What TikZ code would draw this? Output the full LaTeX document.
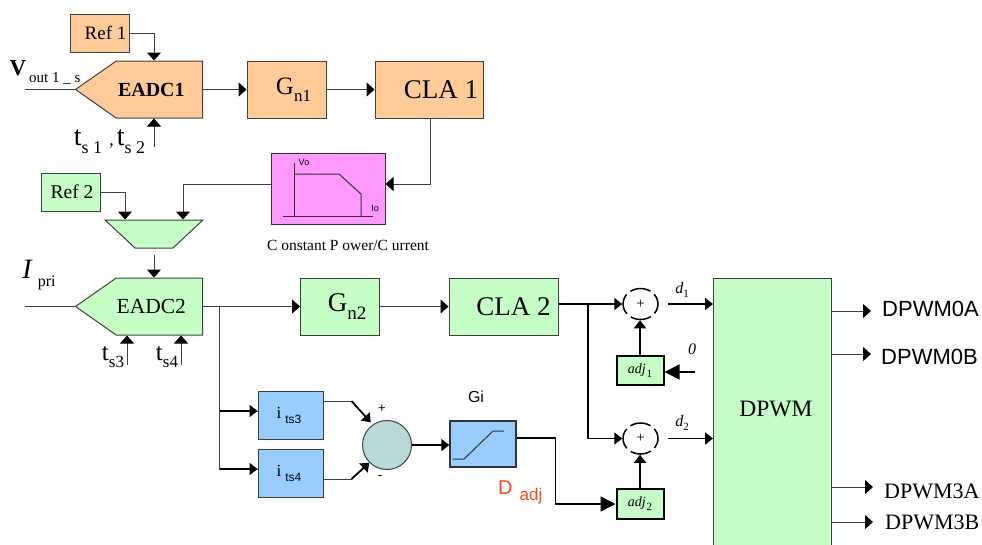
\documentclass[tikz,border=0pt]{standalone}
\usepackage{fontspec}
\setmainfont{Liberation Serif}
\setsansfont{Liberation Sans}
\usetikzlibrary{shapes.geometric, shapes.symbols, positioning, arrows.meta}
\definecolor{BlockOrange}{RGB}{255,204,153}
\definecolor{BlockGreen}{RGB}{198,255,198}
\definecolor{BlockPink}{RGB}{255,153,255}
\definecolor{BlockBlue}{RGB}{153,204,255}
\definecolor{SumTeal}{RGB}{184,216,220}
\definecolor{EdgeGray}{RGB}{64,64,64}
\definecolor{AdjRed}{RGB}{255,70,30}
\newcommand{\fs}[1]{\fontsize{#1}{#1}\selectfont}
\newcommand{\lowtxt}[2]{\raisebox{-0.3em}{\fs{#1}#2}}
\tikzset{
  block/.style={draw=EdgeGray, line width=1pt, inner sep=0pt, align=center},
  adcblock/.style={signal, signal to=west, signal from=nowhere, signal pointer angle=70,
    draw=EdgeGray, line width=1pt, inner sep=0pt, minimum width=127pt, minimum height=57pt, anchor=east},
  wire/.style={draw=black!75, line width=1pt},
  arrowwire/.style={wire, -{Triangle[length=8pt,width=14pt,color=black]}},
  boldwire/.style={draw=black, line width=1.8pt, -{Triangle[length=8pt,width=12pt]}},
  bigwire/.style={draw=black, line width=1.4pt, -{Triangle[length=15pt,width=15pt]}},
  sumnode/.style={ellipse, draw=black, line width=1.5pt, dash pattern=on 21pt off 5pt, dash phase=10.5pt,
    minimum width=35pt, minimum height=31pt, inner sep=0pt, font=\fs{15}},
  adjblock/.style={draw=black, line width=2pt, fill=BlockGreen, minimum width=47pt, inner sep=0pt,
    font=\fs{14}\itshape},
  lbl/.style={inner sep=0pt},
}
\begin{document}
\begin{tikzpicture}[x=1pt, y=-1pt]
  \clip (0,0) rectangle (982,544);
  % top loop
  \node[block, fill=BlockOrange, minimum width=59pt, minimum height=38pt, font=\fs{19}] (Ref1) at (99.5,33) {\hspace{12pt}Ref 1};
  \node[adcblock, fill=BlockOrange, font=\bfseries\fs{20}] (EADC1) at (203,89.5) {EADC1\hspace{16pt}\null};
  \node[block, fill=BlockOrange, minimum width=79pt, minimum height=57pt, font=\fs{25}] (Gn1) at (286.5,89.5) {\hspace{14pt}G\lowtxt{17}{n1}};
  \node[block, fill=BlockOrange, minimum width=108pt, minimum height=57pt, font=\fs{27}] (CLA1) at (429,89.5) {\hspace{24pt}CLA 1};
  \coordinate (Vin1) at (25,89.5);
  \coordinate (ts12) at (154,147);
  \node[lbl] (Vout1) at (45,72) {\fs{23}\bfseries V\hspace{3pt}\normalfont\lowtxt{15}{out 1 \_ s}};
  \node[lbl] (ts12Label) at (109.5,142) {\fs{28}t\lowtxt{18}{s 1} \fs{18},\,\fs{28}t\lowtxt{18}{s 2}};
  % limiter
  \node[block, fill=BlockPink, draw=black!80, minimum width=114pt, minimum height=71pt] (Limit) at (328,188.5) {};
  \draw[black!80, line width=1pt] (294,163) -- (294,216);
  \draw[black!80, line width=1pt] (283,216) -- (373,216);
  \draw[black!80, line width=1pt] (295,174) -- (339,174) -- (361,194) -- (361,216);
  \node[lbl, font=\sffamily\fs{9}] (VoLabel) at (304,162) {Vo};
  \node[lbl, font=\sffamily\fs{9}] (IoLabel) at (375,208) {Io};
  \node[lbl, font=\fs{15.5}] (LimitLabel) at (348,245) {C onstant P ower/C urrent};
  % lower loop
  \node[block, fill=BlockGreen, minimum width=59pt, minimum height=38pt, font=\fs{19.5}] (Ref2) at (70.5,192) {\hspace{3pt}Ref 2};
  \node[trapezium, shape border rotate=180, trapezium stretches=true, trapezium angle=49,
        draw=EdgeGray, line width=1pt, fill=BlockGreen, inner sep=0pt,
        minimum width=98pt, minimum height=28pt] (Mux) at (154,234) {\phantom{x}};
  \node[adcblock, fill=BlockGreen, font=\fs{21.5}] (EADC2) at (203,306.5) {EADC2\hspace{16pt}\null};
  \node[block, fill=BlockGreen, minimum width=79pt, minimum height=57pt, font=\fs{27}] (Gn2) at (340,306.5) {\hspace{14pt}G\lowtxt{19}{n2}};
  \node[block, fill=BlockGreen, minimum width=109pt, minimum height=57pt, font=\fs{27}] (CLA2) at (503.5,306.5) {\hspace{20pt}CLA 2};
  \coordinate (Vin2) at (25,306.5);
  \coordinate (ts3) at (127,365);
  \coordinate (ts4) at (181,365);
  \coordinate (BranchA) at (219.5,306.5);
  \coordinate (BranchB) at (588,304);
  \node[lbl] (IpriLabel) at (39,275) {\fs{28}\itshape I\hspace{6pt}\normalfont\lowtxt{16}{pri}};
  \node[lbl] (ts3Label) at (113,357) {\fs{25}t\lowtxt{17}{s3}};
  \node[lbl] (ts4Label) at (167,357) {\fs{25}t\lowtxt{17}{s4}};
  % current balance
  \node[block, fill=BlockBlue, minimum width=65pt, minimum height=48pt, font=\fs{17}] (Its3) at (290.5,415.5) {i\hspace{4pt}\lowtxt{12}{\sffamily ts3}\hspace{3pt}\null};
  \node[block, fill=BlockBlue, minimum width=65pt, minimum height=48pt, font=\fs{17}] (Its4) at (290.5,473.5) {i\hspace{4pt}\lowtxt{12}{\sffamily ts4}\hspace{3pt}\null};
  \node[circle, draw=EdgeGray, line width=1pt, fill=SumTeal, minimum size=49pt, inner sep=0pt] (Diff) at (387,445) {};
  \node[block, fill=BlockBlue, draw=black!80, line width=1.4pt, minimum width=66pt, minimum height=46pt] (Gi) at (483,444) {};
  \draw[black!80, line width=1pt] (452.5,459) -- (464,459) -- (493,431) -- (504,431);
  \node[lbl, font=\sffamily\fs{16}] (GiLabel) at (476,397) {Gi};
  \node[lbl, font=\sffamily\fs{13}] (PlusLabel) at (382,409) {+};
  \node[lbl, font=\sffamily\fs{13}] (MinusLabel) at (380,478) {-};
  \node[lbl, font=\sffamily, text=AdjRed, anchor=west] (DadjLabel) at (498,492) {\fs{20}D\hspace{7pt}\lowtxt{17}{adj}};
  % duty adjust
  \node[sumnode] (Sum1) at (640.5,304) {+};
  \node[sumnode] (Sum2) at (640.5,438.5) {+};
  \node[adjblock, minimum height=29pt] (Adj1) at (640,370.5) {adj\hspace{1pt}\lowtxt{11}{\upshape 1}};
  \node[adjblock, minimum height=30pt] (Adj2) at (640,504) {adj\hspace{1pt}\lowtxt{11}{\upshape 2}};
  \coordinate (ZeroIn) at (695,372);
  \coordinate (Adj2Corner) at (555.5,438);
  \node[lbl, font=\fs{16}\itshape] (ZeroLabel) at (692,349) {0};
  \node[lbl, font=\fs{16}\itshape] (D1Label) at (682,290) {d\lowtxt{11}{\upshape 1}};
  \node[lbl, font=\fs{16}\itshape] (D2Label) at (682,423) {d\lowtxt{11}{\upshape 2}};
  % pwm block and outputs
  \node[block, fill=BlockGreen, minimum width=118pt, minimum height=272pt, anchor=north west] (DPWM) at (713,278) {};
  \node[lbl, font=\fs{23.5}] (DPWMLabel) at (776,409) {DPWM};
  \coordinate (Out0A) at (871,311);
  \coordinate (Out0B) at (871,354);
  \coordinate (Out3A) at (873,487);
  \coordinate (Out3B) at (873,522);
  \node[lbl, font=\sffamily\fs{22}, anchor=west] (Txt0A) at (882,309) {DPWM0A};
  \node[lbl, font=\sffamily\fs{22}, anchor=west] (Txt0B) at (881,357) {DPWM0B};
  \node[lbl, font=\fs{22}, anchor=west] (Txt3A) at (884,491) {DPWM3A};
  \node[lbl, font=\fs{22}, anchor=west] (Txt3B) at (885,522) {DPWM3B};
  % connectors
  \draw[arrowwire] (Ref1.east) -| (ts12 |- EADC1.north);
  \draw[wire] (Vin1) -- (EADC1.west);
  \draw[arrowwire] (ts12) -- (ts12 |- EADC1.south);
  \draw[arrowwire] (EADC1.east) -- (Gn1.west);
  \draw[arrowwire] (Gn1.east) -- (CLA1.west);
  \draw[arrowwire] ([xshift=1pt]CLA1.south) |- ([yshift=4.5pt]Limit.east);
  \draw[arrowwire] ([yshift=4.5pt]Limit.west) -| ([xshift=29pt]Mux.north);
  \draw[arrowwire] (Ref2.east) -| ([xshift=-29pt]Mux.north);
  \draw[arrowwire, shorten <=6pt] (Mux.south) -- (Mux.south |- EADC2.north);
  \draw[wire] (Vin2) -- (EADC2.west);
  \draw[arrowwire] (EADC2.east) -- (Gn2.west);
  \draw[arrowwire] (Gn2.east) -- (CLA2.west);
  \draw[arrowwire] (ts3) -- (ts3 |- EADC2.south);
  \draw[arrowwire] (ts4) -- (ts4 |- EADC2.south);
  \draw[wire] (BranchA) |- ([yshift=4.5pt]Its3.west);
  \draw[wire] (BranchA) |- ([yshift=4.5pt]Its4.west);
  \draw[boldwire] ([yshift=4.5pt]Its3.west -| BranchA) -- ([yshift=4.5pt]Its3.west);
  \draw[boldwire] ([yshift=4.5pt]Its4.west -| BranchA) -- ([yshift=4.5pt]Its4.west);
  \draw[wire] ([yshift=14.5pt]Its3.east) -- ++(28,0) coordinate (Bend3);
  \draw[boldwire, shorten >=3pt] (Bend3) -- (Diff.125);
  \draw[wire] ([yshift=-5.5pt]Its4.east) -- ++(28,0) coordinate (Bend4);
  \draw[boldwire] (Bend4) -- (Diff.225);
  \draw[boldwire] (Diff.east) -- (Diff.east -| Gi.west);
  \draw[boldwire] (CLA2.east |- Sum1.west) -- (Sum1.west);
  \draw[boldwire] (BranchB) |- (Sum2.west);
  \draw[boldwire] (Adj1.north) -- (Sum1.south -| Adj1.north);
  \draw[boldwire] (Adj2.north) -- (Sum2.south -| Adj2.north);
  \draw[bigwire] (ZeroIn) -- (ZeroIn -| Adj1.east);
  \draw[boldwire, shorten <=9pt] (Sum1.east) -- (Sum1.east -| DPWM.west);
  \draw[boldwire, shorten <=9pt] (Sum2.east) -- (Sum2.east -| DPWM.west);
  \draw[draw=black, line width=1.8pt] (Gi.east |- Adj2Corner) -- (Adj2Corner);
  \draw[bigwire] (Adj2Corner) |- (Adj2.west);
  \draw[arrowwire] (Out0A -| DPWM.east) -- (Out0A);
  \draw[arrowwire] (Out0B -| DPWM.east) -- (Out0B);
  \draw[arrowwire] (Out3A -| DPWM.east) -- (Out3A);
  \draw[arrowwire] (Out3B -| DPWM.east) -- (Out3B);
\end{tikzpicture}
\end{document}
